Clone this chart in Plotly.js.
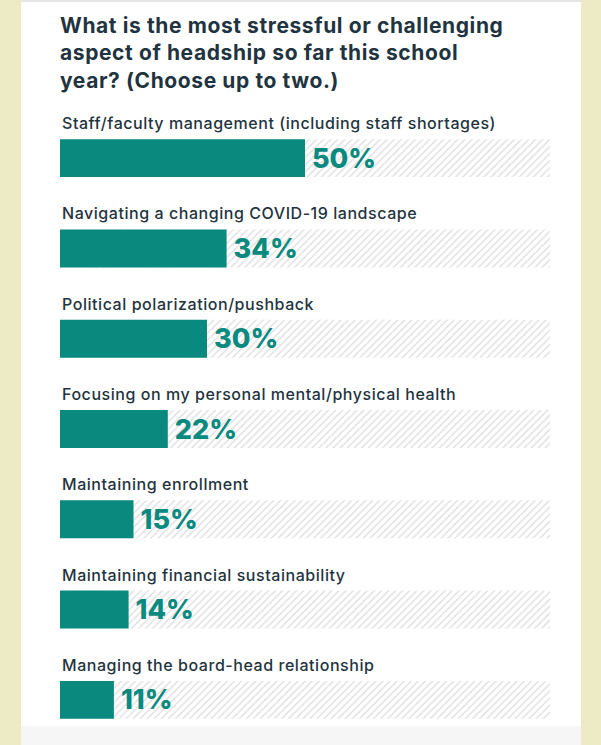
<!DOCTYPE html>
<html>
<head>
<meta charset="utf-8">
<script src="https://cdn.plot.ly/plotly-3.0.1.min.js"></script>
<style>
html,body{margin:0;padding:0;background:#ecebc6;}
#chart{width:601px;height:745px;}
#chart .gtitle{letter-spacing:0.6px;}
#chart .annotation-text{letter-spacing:0.55px;}
</style>
</head>
<body>
<div id="chart"></div>
<script>
const categories = [
  "Staff/faculty management (including staff shortages)",
  "Navigating a changing COVID-19 landscape",
  "Political polarization/pushback",
  "Focusing on my personal mental/physical health",
  "Maintaining enrollment",
  "Maintaining financial sustainability",
  "Managing the board-head relationship"
];
const values = [50, 34, 30, 22, 15, 14, 11];
const trackValues = [100, 100, 100, 100, 100, 100, 100];
const valueLabels = ["50%", "34%", "30%", "22%", "15%", "14%", "11%"];
const titleText = "What is the most stressful or challenging<br>aspect of headship so far this school<br>year? (Choose up to two.)";

const teal = "#0a897f";
const dark = "#1f3440";
const fontFam = "Inter, 'Open Sans', sans-serif";

const track = {
  type: "bar", orientation: "h",
  x: trackValues, y: categories,
  width: 0.42,
  marker: {color: "#ffffff", line: {width: 0},
    pattern: {shape: "/", fgcolor: "#dcdcdc", bgcolor: "#ffffff", size: 5, solidity: 0.25}},
  hoverinfo: "skip", showlegend: false
};
const bars = {
  type: "bar", orientation: "h",
  x: values, y: categories,
  width: 0.42,
  marker: {color: teal, line: {width: 0}},
  text: valueLabels, texttemplate: "\u2009%{text}",
  textposition: "outside", constraintext: "none", cliponaxis: false,
  textfont: {family: fontFam, size: 27, color: teal, weight: 800},
  hoverinfo: "skip", showlegend: false
};

const annotations = categories.map(c => ({
  xref: "x", yref: "y", x: 0, y: c, yshift: 35,
  xanchor: "left", yanchor: "middle", align: "left", showarrow: false,
  text: c, font: {family: fontFam, size: 16, color: dark, weight: 500}
}));

const W = 490, H = 632;
const shapes = [
  {type: "rect", layer: "below", xref: "paper", yref: "paper",
   x0: (21 - 60) / W, x1: (581 - 60) / W, y0: -0.01, y1: 745 / H + 0.01,
   fillcolor: "#ffffff", line: {width: 0}},
  {type: "rect", layer: "below", xref: "paper", yref: "paper",
   x0: (21 - 60) / W, x1: (581 - 60) / W, y0: -0.01, y1: (745 - 726) / H,
   fillcolor: "#f6f6f6", line: {width: 0}},
  {type: "rect", layer: "below", xref: "paper", yref: "paper",
   x0: (21 - 60) / W, x1: (581 - 60) / W, y0: (745 - 2) / H, y1: 745 / H + 0.01,
   fillcolor: "#e6e6e6", line: {width: 0}}
];

const layout = {
  width: 601, height: 745,
  margin: {l: 60, r: 51, t: 113, b: 0, pad: 0},
  paper_bgcolor: "#ecebc6", plot_bgcolor: "rgba(0,0,0,0)",
  barmode: "overlay",
  title: {text: titleText, xref: "container", yref: "container",
    x: 60 / 601, xanchor: "left", y: 1 - 33 / 745, yanchor: "top",
    font: {family: fontFam, size: 21, color: dark, weight: 700}},
  xaxis: {range: [0, 100], visible: false, fixedrange: true},
  yaxis: {type: "category", categoryorder: "array", categoryarray: categories,
    range: [6.5, -0.5], visible: false, fixedrange: true},
  annotations: annotations,
  shapes: shapes,
  showlegend: false
};

Plotly.newPlot("chart", [track, bars], layout, {displayModeBar: false, staticPlot: true});
</script>
</body>
</html>
